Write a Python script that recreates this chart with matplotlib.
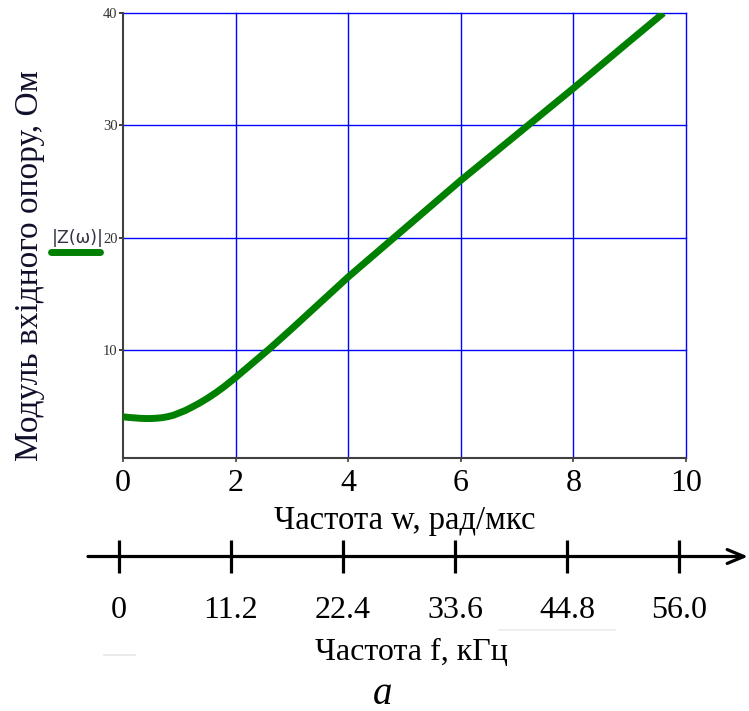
import matplotlib
matplotlib.use("Agg")
import matplotlib.pyplot as plt
import numpy as np

# ---- data ----
w_vals = [0.0, 0.1, 0.2, 0.3, 0.4, 0.5, 0.6, 0.7, 0.8, 0.9, 1.0, 1.1, 1.2, 1.35, 1.5,
          1.65, 1.8, 2.0, 2.2, 2.4, 2.6, 2.8, 3.0, 3.5, 4.0, 5.0, 6.0, 7.0, 8.0, 9.0, 9.6]
z_vals = [4.05, 4.0, 3.96, 3.92, 3.9, 3.9, 3.93, 3.98, 4.07, 4.2, 4.4, 4.6, 4.85, 5.25, 5.7,
          6.2, 6.75, 7.55, 8.4, 9.25, 10.1, 11.0, 11.9, 14.2, 16.5, 20.8, 25.1, 29.2, 33.3, 37.5, 40.0]
x_ticks = [0, 2, 4, 6, 8, 10]
y_ticks = [10, 20, 30, 40]
f_ticks = [0, 11.2, 22.4, 33.6, 44.8, 56.0]
f_labels = ["0", "11.2", "22.4", "33.6", "44.8", "56.0"]

W, H = 749, 711
fig = plt.figure(figsize=(W / 100, H / 100), dpi=100)
serif = "Liberation Serif"

def fx(px):
    return px / W

def fy(py):
    return 1 - py / H

# ---- main axes ----
ax = fig.add_axes([fx(123), fy(458), (686 - 123) / W, (458 - 13) / H])
ax.plot(w_vals, z_vals, color="#008000", lw=5.0, solid_capstyle="butt",
        solid_joinstyle="round", zorder=3)
ax.set_xlim(0, 10)
ax.set_ylim(0.386, 40)
ax.set_xticks(x_ticks)
ax.set_yticks(y_ticks)
ax.set_xticklabels([str(t) for t in x_ticks], fontsize=23, family=serif)
ax.set_yticklabels([str(t) for t in y_ticks], fontsize=10.5, family=serif, color="#333333")
for s in ["top", "right"]:
    ax.spines[s].set_visible(False)
for s in ["left", "bottom"]:
    ax.spines[s].set_color("#404040")
    ax.spines[s].set_linewidth(1.5)
ax.tick_params(axis="x", direction="out", length=3, width=1.2, color="#404040", pad=5)
ax.tick_params(axis="y", direction="out", length=3, width=1.2, color="#202020", pad=1)
for xv in x_ticks[1:]:
    ax.axvline(xv, color="#0000ff", lw=1.0, zorder=1, clip_on=False)
for yv in y_ticks:
    ax.axhline(yv, color="#0000ff", lw=1.0, zorder=1, clip_on=False)
ax.set_xlabel("Частота w, рад/мкс", fontsize=23.5, family=serif, labelpad=5)

# y label and legend
fig.text(fx(30), fy(266), "Модуль вхідного опору, Ом", rotation=90, fontsize=24,
         family=serif, color="#10102a", ha="center", va="center")
fig.text(fx(78), fy(238), "|Z(ω)|", fontsize=12.5, family="DejaVu Sans",
         color="#333344", ha="center", va="center")
fig.add_artist(plt.Line2D([fx(51), fx(100)], [fy(252), fy(252)], color="#008000",
                          lw=5.0, solid_capstyle="round"))

# ---- frequency axis ----
ax2 = fig.add_axes([fx(119), fy(573), (679 - 119) / W, (573 - 540) / H])
ax2.set_xlim(0, 56.0)
ax2.set_ylim(-1, 1)
ax2.axis("off")
ax2.annotate("", xy=(62.9, 0), xytext=(-3.1, 0),
             arrowprops=dict(arrowstyle="->,head_length=1.2,head_width=0.5",
                             lw=2.3, color="black", shrinkA=0, shrinkB=0),
             annotation_clip=False)
ax2.vlines(f_ticks, -1, 1, color="black", lw=2.3, clip_on=False)
for ft, lab in zip(f_ticks, f_labels):
    ax2.text(ft, -3.25, lab, fontsize=23, family=serif, ha="center", va="center",
             clip_on=False)

fig.text(fx(411), fy(652), "Частота f, кГц", fontsize=23, family=serif,
         ha="center", va="center")
fig.text(fx(383), fy(694), "a", fontsize=28, family=serif, style="italic",
         ha="center", va="center")

# faint artifacts
fig.add_artist(plt.Line2D([fx(499), fx(615)], [fy(630), fy(630)], color="#ececec", lw=1.2))
fig.add_artist(plt.Line2D([fx(104), fx(135)], [fy(655), fy(655)], color="#e6e6e6", lw=1.2))

fig.savefig("out.png", dpi=100)
